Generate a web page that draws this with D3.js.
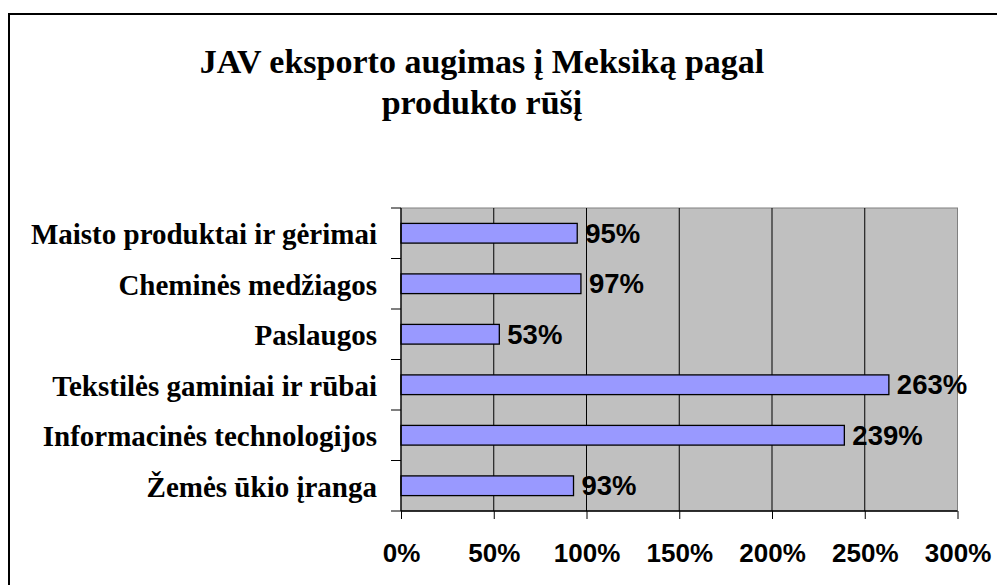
<!DOCTYPE html>
<html>
<head>
<meta charset="utf-8">
<script src="https://cdn.jsdelivr.net/npm/d3@7"></script>
<style>
  html, body { margin: 0; padding: 0; background: #fff; }
  svg { display: block; }
</style>
</head>
<body>
<svg id="chart" width="997" height="585"></svg>
<script>
const titleLines = ['JAV eksporto augimas į Meksiką pagal', 'produkto rūšį'];
const categories = [
  'Maisto produktai ir gėrimai',
  'Cheminės medžiagos',
  'Paslaugos',
  'Tekstilės gaminiai ir rūbai',
  'Informacinės technologijos',
  'Žemės ūkio įranga'
];
const values = [95, 97, 53, 263, 239, 93];
const tickValues = [0, 50, 100, 150, 200, 250, 300];

const svg = d3.select('#chart');
const plot = { left: 401, top: 208, right: 957.5, bottom: 511 };

// outer frame (only top and left edges show in the picture)
svg.append('rect')
  .attr('x', 9).attr('y', 14)
  .attr('width', 1100).attr('height', 1100)
  .attr('fill', 'none')
  .attr('stroke', '#000')
  .attr('stroke-width', 2);

svg.append('text')
  .attr('text-anchor', 'middle')
  .attr('font-family', '"Liberation Serif", "Times New Roman", serif')
  .attr('font-weight', 'bold')
  .attr('font-size', 34)
  .selectAll('tspan')
  .data(titleLines)
  .enter().append('tspan')
  .attr('x', 482)
  .attr('y', (d, i) => 73 + i * 41)
  .text(d => d);

const x = d3.scaleLinear()
  .domain([0, 300])
  .range([plot.left, plot.right]);

const y = d3.scaleBand()
  .domain(categories)
  .range([plot.top, plot.bottom])
  .paddingInner(0.61)
  .paddingOuter(0.305);

// plot background
svg.append('rect')
  .attr('x', plot.left).attr('y', plot.top)
  .attr('width', plot.right - plot.left)
  .attr('height', plot.bottom - plot.top)
  .attr('fill', '#c0c0c0')
  .attr('stroke', '#808080')
  .attr('stroke-width', 1);

// vertical gridlines
svg.append('g')
  .selectAll('line')
  .data(tickValues.slice(1, -1))
  .enter().append('line')
  .attr('x1', d => x(d)).attr('x2', d => x(d))
  .attr('y1', plot.top).attr('y2', plot.bottom)
  .attr('stroke', '#000')
  .attr('stroke-width', 1);

// bars
svg.append('g')
  .selectAll('rect')
  .data(values)
  .enter().append('rect')
  .attr('x', x(0))
  .attr('y', (d, i) => y(categories[i]))
  .attr('width', d => x(d) - x(0))
  .attr('height', y.bandwidth())
  .attr('fill', '#9999ff')
  .attr('stroke', '#000')
  .attr('stroke-width', 1.3);

// value labels
svg.append('g')
  .selectAll('text')
  .data(values)
  .enter().append('text')
  .attr('x', d => x(d) + 8)
  .attr('y', (d, i) => y(categories[i]) + y.bandwidth() / 2 + 9.5)
  .attr('font-family', '"Liberation Sans", Arial, sans-serif')
  .attr('font-weight', 'bold')
  .attr('font-size', 27.5)
  .attr('fill', '#000')
  .text(d => d + '%');

// x axis
const xAxis = svg.append('g')
  .attr('transform', `translate(0,${plot.bottom})`)
  .call(d3.axisBottom(x).tickValues(tickValues).tickSize(8).tickPadding(0).tickFormat(d => d + '%'));
xAxis.select('.domain').attr('stroke', '#000').attr('stroke-width', 1.3).attr('d', `M${plot.left},0H${plot.right}`);
xAxis.selectAll('.tick line').attr('stroke', '#000').attr('stroke-width', 1);
xAxis.selectAll('.tick text')
  .attr('font-family', '"Liberation Sans", Arial, sans-serif')
  .attr('font-weight', 'bold')
  .attr('font-size', 26)
  .attr('fill', '#000')
  .attr('dy', null)
  .attr('y', 51);

// y axis: ticks sit between categories
const yAxis = svg.append('g')
  .attr('transform', `translate(${plot.left},0)`);
yAxis.append('line')
  .attr('x1', 0).attr('x2', 0)
  .attr('y1', plot.top).attr('y2', plot.bottom)
  .attr('stroke', '#000').attr('stroke-width', 1.3);
const boundaries = categories.map(c => y(c) - y.step() * y.paddingInner() / 2);
boundaries.push(plot.bottom);
yAxis.selectAll('.ytick')
  .data(boundaries)
  .enter().append('line')
  .attr('class', 'ytick')
  .attr('x1', -10).attr('x2', 0)
  .attr('y1', d => d).attr('y2', d => d)
  .attr('stroke', '#000').attr('stroke-width', 1);

yAxis.selectAll('.ylabel')
  .data(categories)
  .enter().append('text')
  .attr('class', 'ylabel')
  .attr('x', -24)
  .attr('y', d => y(d) + y.bandwidth() / 2 + 11)
  .attr('text-anchor', 'end')
  .attr('font-family', '"Liberation Serif", "Times New Roman", serif')
  .attr('font-weight', 'bold')
  .attr('font-size', 29)
  .attr('fill', '#000')
  .text(d => d);
</script>
</body>
</html>
